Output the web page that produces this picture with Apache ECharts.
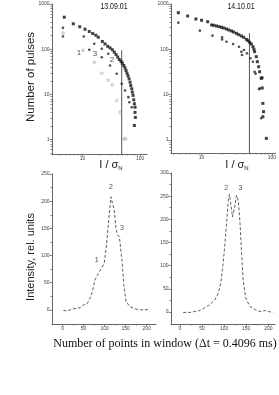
<!DOCTYPE html>
<html><head><meta charset="utf-8">
<script src="https://cdn.jsdelivr.net/npm/echarts@6/dist/echarts.min.js"></script>
<style>html,body{margin:0;padding:0;background:#fff}#c{width:279px;height:395px}</style>
</head><body><div id="c"></div>
<script>
// ---- Top-left panel (13.09.01): number of pulses vs I/sigma_N ----
const tlS1X = [4.82, 6.92, 8.94, 11.05, 13.1, 15.0, 17.0, 18.8, 22.1, 24.6, 27.4, 30.1, 33, 35.7, 38.3, 40.9, 43.6, 46.8, 49.2, 52.1, 54.8, 57.1, 59.4, 61.8, 64.4, 67, 68.9, 71.7, 73.5, 75.5, 77.6, 79.6, 81.8, 81.8, 82.8, 79.6];
const tlS1Y = [511, 365, 313, 277, 246, 222, 204, 184, 148, 131, 116, 107, 97, 86, 76, 67, 59, 53.5, 49, 43.6, 38.7, 33.8, 29.5, 25.8, 22.1, 18.6, 15.7, 13.3, 11.2, 9.5, 7.6, 6.2, 5.2, 4.0, 3.1, 2.05];
const tlS2X = [4.58, 4.58, 10.5, 13.1, 16, 21.6, 21.6, 28, 30.1, 39.3, 48.1, 54.8, 62.6, 65.2, 71.7];
const tlS2Y = [297, 191, 191, 97, 132, 102, 66.5, 79, 43.6, 28.6, 17.2, 12.2, 8.7, 6.7, 5.2];
const tlS3X = [4.58, 10.2, 16, 21.6, 28.1, 33, 39.3, 44.9, 53.3, 56];
const tlS3Y = [226, 94, 51.6, 29.3, 20.5, 16.2, 7.3, 4.0, 1.04, 1.04];
const tlLabels = [[8.7, 84, '1'], [16.5, 80, '3'], [32.6, 59, '2']];
const tlCutX = [48, 48];
const tlCutY = [0.48, 95];

// ---- Top-right panel (14.10.01) ----
const trS1X = [4.67, 6.34, 8.3, 10, 12.2, 13.9, 14.9, 16.3, 17.7, 19.2, 20.7, 22.6, 24.4, 26.6, 28.6, 31.3, 33.8, 36.8, 39.7, 43.4, 45.7, 48.3, 51.1, 53.8, 55.6, 56.8, 60.1, 62.2, 64.9, 67, 70.7, 72.5, 73.1, 74.6, 76.2, 74.6, 83.5];
const trS1Y = [643, 543, 467, 437, 406, 344, 339, 327, 316, 306, 295, 281, 267, 254, 241, 225, 210, 197, 184, 166, 155, 143, 131, 114, 100, 88.5, 68.7, 53.2, 41.3, 32, 22.9, 23.5, 14, 6.4, 4.2, 3.25, 1.08];
const trS2X = [4.67, 9.46, 14.3, 19.6, 19.6, 22.6, 28.1, 34.1, 36.8, 37.6, 40.1, 44.3, 49.5, 53.8, 56.8, 58.7, 66.2, 67, 70.7];
const trS2Y = [387, 258, 200, 183, 165, 147, 131, 114, 88, 75, 96.6, 81.6, 63.3, 53.2, 32, 29, 13.1, 13.8, 3];
const trCutX = [48, 48];
const trCutY = [0.513, 225];

// ---- Bottom-left panel: intensity profile ----
const blX = [2, 10, 22, 34, 42, 50, 59, 65, 72, 77, 85, 93, 99, 104, 109, 115, 117, 122.6, 127, 130, 135, 141, 146, 151, 160, 172, 184, 196, 206];
const blY = [-1, -2, 1, 3, 4, 9, 12, 21, 37, 55, 67, 77, 86, 116, 159, 208, 210, 184, 150, 138, 135, 92, 43, 15, 6, 2, 0, 0, 1];
const blLabels = [[81, 92, '1'], [115, 226, '2'], [141, 150, '3']];

// ---- Bottom-right panel ----
const brX = [7.5, 23, 34, 45, 56, 68, 79, 87, 92.5, 97, 102, 106, 109.5, 112, 115, 119, 124, 128, 132, 136, 139.5, 143, 149, 158, 170, 181, 192, 199.5, 211];
const brY = [-1, -1, 1, 3, 9, 16, 26, 41, 62, 98, 148, 198, 241, 254, 234, 205, 227, 252, 241, 191, 127, 69, 30, 12, 5, 1, 3, 1, -1];
const brLabels = [[104.5, 267, '2'], [137, 267, '3']];

// ---- tick values ----
const logMajorX = [10, 100];
const logMajorY = [1, 10, 100, 1000];
const logMinor = [0.5, 0.6, 0.7, 0.8, 0.9, 2, 3, 4, 5, 6, 7, 8, 9, 20, 30, 40, 50, 60, 70, 80, 90, 200, 300, 400, 500, 600, 700, 800, 900];
const linMajorX = [0, 50, 100, 150, 200];
const linMinorX = [25, 75, 125, 175];
const blMajorY = [0, 50, 100, 150, 200, 250];
const blMinorY = [25, 75, 125, 175, 225];
const brMajorY = [0, 50, 100, 150, 200, 250, 300];
const brMinorY = [25, 75, 125, 175, 225, 275];

const zip = (xs, ys) => xs.map((x, i) => [x, ys[i]]);
const AX = '#666';
function axis(type, grid, min, max, major, minor, isMinor, pos) {
  const vals = isMinor ? minor.filter(v => v >= min && v <= max) : major;
  return {
    type: type, gridIndex: grid, min: min, max: max, position: pos,
    axisLine: { show: !isMinor, onZero: false, lineStyle: { color: AX, width: 1 } },
    axisTick: { show: true, length: isMinor ? 1.5 : 2.5, customValues: vals, lineStyle: { color: AX, width: 0.8 } },
    axisLabel: { show: !isMinor, customValues: vals, fontSize: 5, color: '#444', margin: 2.5, fontFamily: 'Liberation Sans', formatter: v => String(v) },
    splitLine: { show: false }
  };
}
const grids = [
  { left: 52, top: 4, width: 95, height: 150 },
  { left: 171, top: 4, width: 105, height: 149 },
  { left: 52, top: 174, width: 104, height: 150 },
  { left: 171, top: 173, width: 104, height: 151 }
];
const xAxes = [
  axis('log', 0, 2.95, 132, logMajorX, logMinor, false, 'bottom'),
  axis('log', 1, 3.67, 113, logMajorX, logMinor, false, 'bottom'),
  axis('value', 2, -25, 222, linMajorX, linMinorX, false, 'bottom'),
  axis('value', 3, -20, 215, linMajorX, linMinorX, false, 'bottom'),
  axis('log', 0, 2.95, 132, logMajorX, logMinor, true, 'bottom'),
  axis('log', 1, 3.67, 113, logMajorX, logMinor, true, 'bottom'),
  axis('value', 2, -25, 222, linMajorX, linMinorX, true, 'bottom'),
  axis('value', 3, -20, 215, linMajorX, linMinorX, true, 'bottom')
];
const yAxes = [
  axis('log', 0, 0.48, 1000, logMajorY, logMinor, false, 'left'),
  axis('log', 1, 0.513, 1000, logMajorY, logMinor, false, 'left'),
  axis('value', 2, -26, 250, blMajorY, blMinorY, false, 'left'),
  axis('value', 3, -26, 300, brMajorY, brMinorY, false, 'left'),
  axis('log', 0, 0.48, 1000, logMajorY, logMinor, true, 'left'),
  axis('log', 1, 0.513, 1000, logMajorY, logMinor, true, 'left'),
  axis('value', 2, -26, 250, blMajorY, blMinorY, true, 'left'),
  axis('value', 3, -26, 300, brMajorY, brMinorY, true, 'left')
];

function sq(i, xs, ys, size) {
  return { type: 'scatter', xAxisIndex: i, yAxisIndex: i, data: zip(xs, ys), symbol: 'rect', symbolSize: size, itemStyle: { color: '#111' }, silent: true, z: 3 };
}
function dot(i, xs, ys, size) {
  return { type: 'scatter', xAxisIndex: i, yAxisIndex: i, data: zip(xs, ys), symbol: 'circle', symbolSize: size, itemStyle: { color: '#222' }, silent: true, z: 3 };
}
function openDot(i, xs, ys) {
  return { type: 'scatter', xAxisIndex: i, yAxisIndex: i, data: zip(xs, ys), symbol: 'circle', symbolSize: 2.6, itemStyle: { color: '#fff', borderColor: '#777', borderWidth: 0.6 }, silent: true, z: 3 };
}
function labels(i, arr, size) {
  return { type: 'scatter', xAxisIndex: i, yAxisIndex: i, data: arr, symbolSize: 0, silent: true,
    label: { show: true, position: 'inside', formatter: p => p.value[2], fontSize: size, color: '#222', fontFamily: 'Liberation Sans' } };
}
function vline(i, xs, ys) {
  return { type: 'line', xAxisIndex: i, yAxisIndex: i, data: zip(xs, ys), symbol: 'none', lineStyle: { color: '#555', width: 1 }, silent: true, z: 2 };
}
function dashed(i, xs, ys) {
  return { type: 'line', xAxisIndex: i, yAxisIndex: i, data: zip(xs, ys), symbol: 'none', lineStyle: { color: '#333', width: 0.8, type: [3, 2] }, silent: true };
}

const chart = echarts.init(document.getElementById('c'), null, { renderer: 'canvas' });
chart.setOption({
  animation: false,
  backgroundColor: '#fff',
  grid: grids,
  xAxis: xAxes,
  yAxis: yAxes,
  series: [
    vline(0, tlCutX, tlCutY),
    sq(0, tlS1X, tlS1Y, 3),
    dot(0, tlS2X, tlS2Y, 2.6),
    openDot(0, tlS3X, tlS3Y),
    labels(0, tlLabels, 8),
    vline(1, trCutX, trCutY),
    sq(1, trS1X, trS1Y, 3),
    dot(1, trS2X, trS2Y, 2.6),
    dashed(2, blX, blY),
    labels(2, blLabels, 7),
    dashed(3, brX, brY),
    labels(3, brLabels, 7)
  ],
  graphic: [
    { type: 'text', x: 114, y: 7, scaleX: 0.82, style: { text: '13.09.01', font: '8.5px "Liberation Sans"', textAlign: 'center', textVerticalAlign: 'middle', fill: '#111' } },
    { type: 'text', x: 241, y: 7, scaleX: 0.82, style: { text: '14.10.01', font: '8.5px "Liberation Sans"', textAlign: 'center', textVerticalAlign: 'middle', fill: '#111' } },
    { type: 'text', x: 111, y: 165, style: { text: 'I / σ{s|N}', font: '11px "Liberation Sans"', textAlign: 'center', textVerticalAlign: 'middle', fill: '#222', rich: { s: { fontSize: 6, padding: [6, 0, 0, 0], fill: '#222' } } } },
    { type: 'text', x: 237, y: 165, style: { text: 'I / σ{s|N}', font: '11px "Liberation Sans"', textAlign: 'center', textVerticalAlign: 'middle', fill: '#222', rich: { s: { fontSize: 6, padding: [6, 0, 0, 0], fill: '#222' } } } },
    { type: 'text', x: 31, y: 77, rotation: Math.PI / 2, style: { text: 'Number of pulses', font: '11.5px "Liberation Sans"', textAlign: 'center', textVerticalAlign: 'middle', fill: '#222' } },
    { type: 'text', x: 31, y: 257, rotation: Math.PI / 2, style: { text: 'Intensity, rel. units', font: '11px "Liberation Sans"', textAlign: 'center', textVerticalAlign: 'middle', fill: '#222' } },
    { type: 'text', x: 165, y: 344, style: { text: 'Number of points in window (Δt = 0.4096 ms)', font: '12px "Liberation Serif"', textAlign: 'center', textVerticalAlign: 'middle', fill: '#111' } }
  ]
});
</script></body></html>
